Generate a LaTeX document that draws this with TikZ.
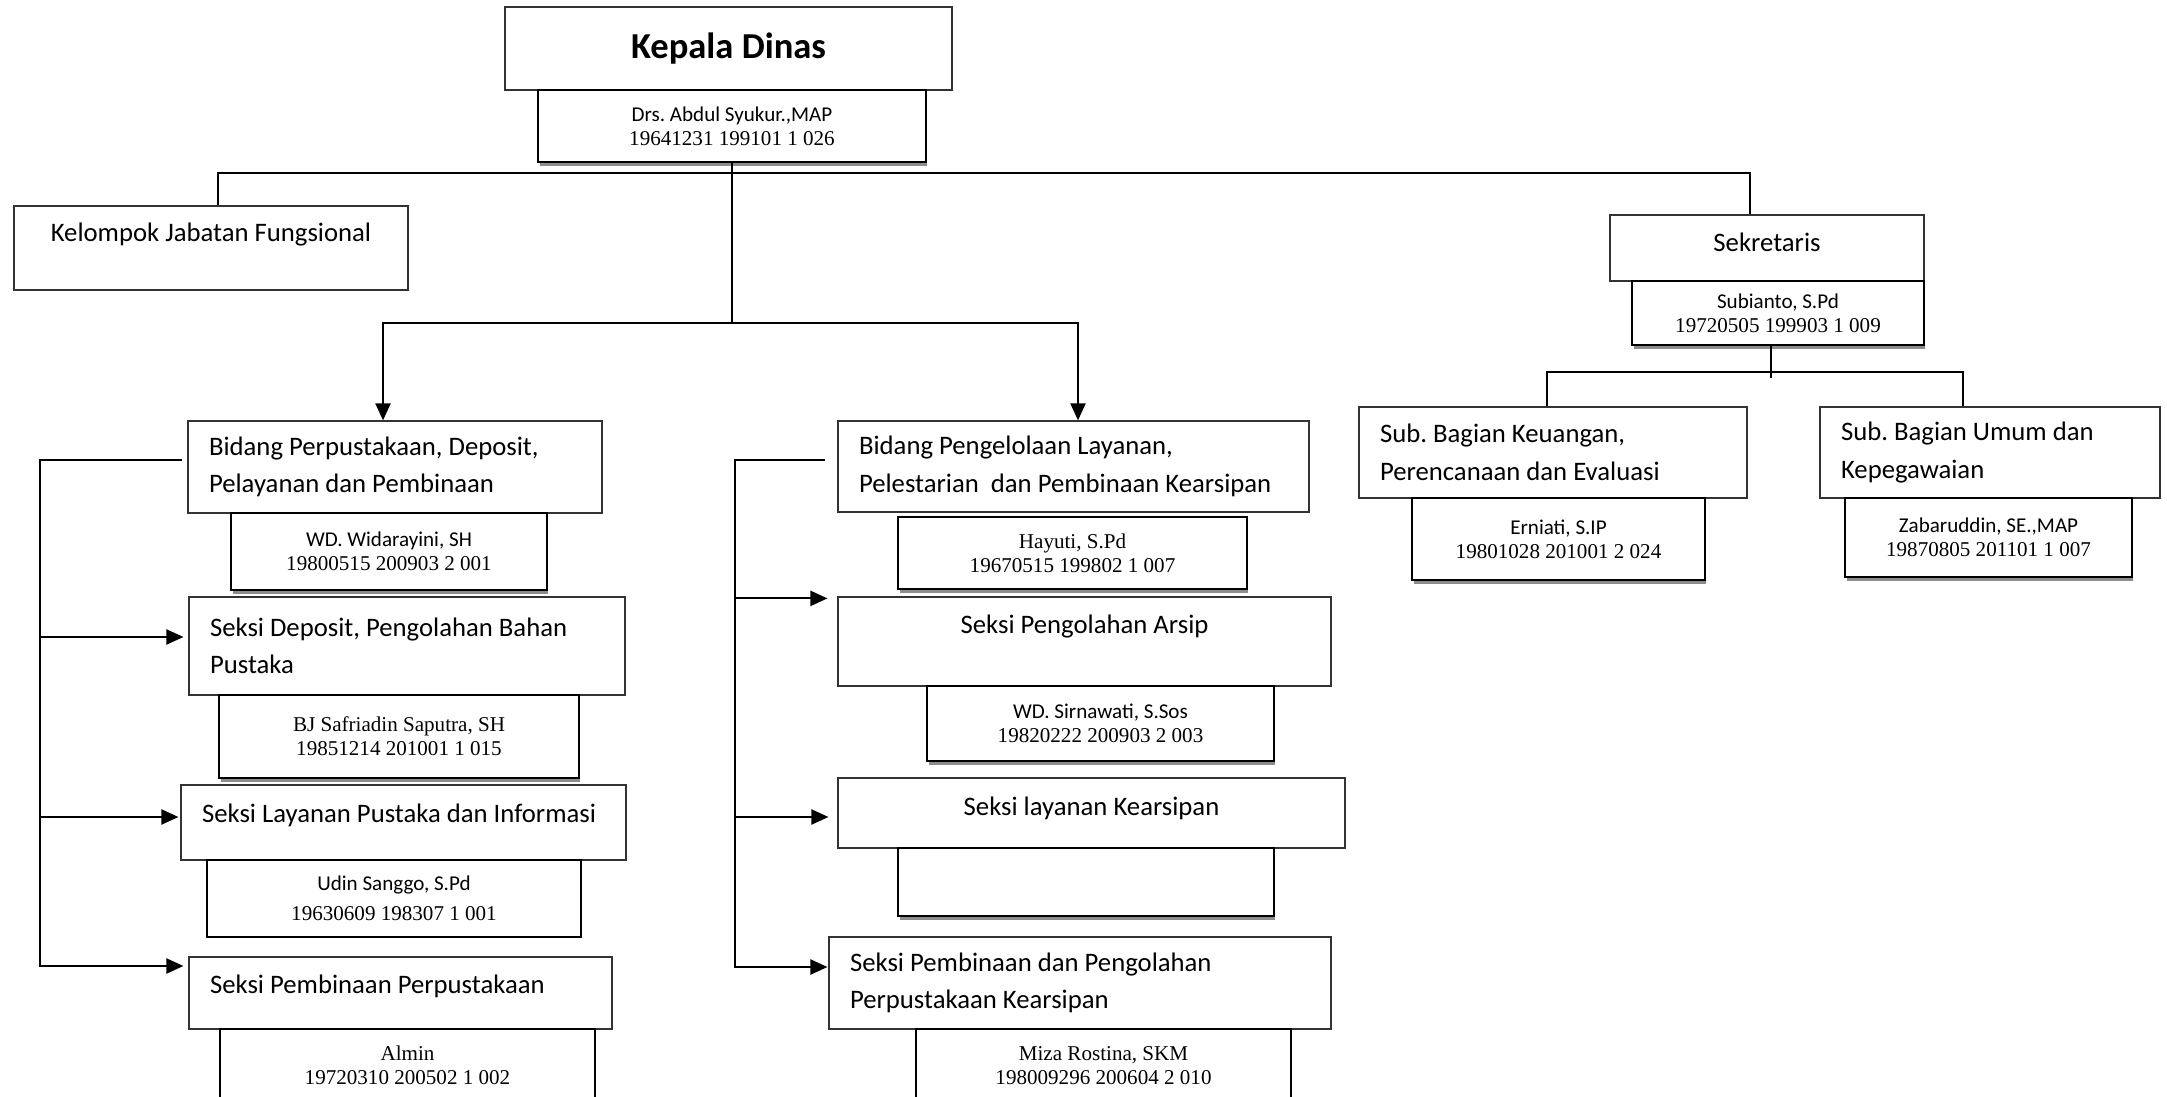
\documentclass[tikz,border=0pt]{standalone}
\usepackage{fontspec}
\setmainfont{Liberation Serif}
\setsansfont{Carlito}
\usetikzlibrary{arrows.meta,shadows}
\frenchspacing

\begin{document}
\begin{tikzpicture}[x=0.02cm, y=-0.02cm,
      orgbox/.style={draw=black!80, line width=0.7pt, fill=white,
        font=\sffamily\fontsize{15.2}{21.3}\selectfont},
      orgboxl/.style={orgbox, align=flush left, inner xsep=0.42cm, text width=#1},
      staffbox/.style={draw, line width=0.9pt, fill=white, align=center,
        font=\fontsize{12}{13.7}\selectfont},
      shadowed/.style={drop shadow={shadow xshift=0.03cm, shadow yshift=-0.08cm,
        fill=black!45, opacity=1}},
      conn/.style={line width=1.2pt},
      arrowto/.style={-{Triangle[length=0.34cm,width=0.3cm]}},
      arrowfrom/.style={{Triangle[length=0.34cm,width=0.3cm]}-}]
  \useasboundingbox (0,0) rectangle (2167,1097);
  \clip (0,0) rectangle (2167,1097);

  % kepala dinas
  \node[orgbox, minimum width=8.94cm, minimum height=1.66cm,
    font=\sffamily\bfseries\fontsize{20.8}{25}\selectfont] (kd) at (728.5,48.5) {Kepala Dinas};
  \node[staffbox, shadowed, minimum width=7.76cm, minimum height=1.44cm] (kdn) at (732,126)
    {{\sffamily Drs. Abdul Syukur.,MAP}\\19641231 199101 1 026};
  \node[orgbox, minimum width=7.88cm, minimum height=1.68cm, text depth=0.65cm] (kjf) at (211,248)
    {Kelompok Jabatan Fungsional};

  % sekretariat
  \node[orgbox, minimum width=6.28cm, minimum height=1.32cm, text depth=0.24cm] (sek) at (1767,248) {Sekretaris};
  \node[staffbox, shadowed, minimum width=5.84cm, minimum height=1.28cm] (sekn) at (1778,313)
    {{\sffamily Subianto, S.Pd}\\19720505 199903 1 009};
  \node[orgboxl=6.92cm, minimum height=1.82cm] (keu) at (1553,452.5)
    {Sub. Bagian Keuangan,\\Perencanaan dan Evaluasi};
  \node[staffbox, shadowed, minimum width=5.86cm, minimum height=1.64cm] (keun) at (1558.5,539)
    {{\sffamily Erniati, S.IP}\\19801028 201001 2 024};
  \node[orgboxl=5.96cm, minimum height=1.82cm] (umum) at (1990,452.5)
    {Sub. Bagian Umum dan\\Kepegawaian};
  \node[staffbox, shadowed, minimum width=5.74cm, minimum height=1.58cm] (umumn) at (1988.5,537.5)
    {{\sffamily Zabaruddin, SE.,MAP}\\19870805 201101 1 007};

  % bidang perpustakaan
  \node[orgboxl=7.44cm, minimum height=1.84cm] (bp) at (395,467)
    {Bidang Perpustakaan, Deposit,\\Pelayanan dan Pembinaan};
  \node[staffbox, shadowed, minimum width=6.32cm, minimum height=1.54cm] (bpn) at (389,551.5)
    {{\sffamily WD. Widarayini, SH}\\19800515 200903 2 001};
  \node[orgboxl=7.88cm, minimum height=1.96cm] (sdp) at (407,646)
    {Seksi Deposit, Pengolahan Bahan\\Pustaka};
  \node[staffbox, shadowed, minimum width=7.2cm, minimum height=1.66cm] (sdpn) at (399,736.5)
    {BJ Safriadin Saputra, SH\\19851214 201001 1 015};
  \node[orgboxl=8.06cm, minimum height=1.5cm, text depth=0.38cm] (slp) at (403.5,822.5)
    {Seksi Layanan Pustaka dan Informasi};
  \node[staffbox, minimum width=7.48cm, minimum height=1.54cm] (slpn) at (394,898.5)
    {{\sffamily Udin Sanggo, S.Pd}\\[0.12cm]19630609 198307 1 001};
  \node[orgboxl=7.62cm, minimum height=1.44cm, text depth=0.34cm] (spp) at (400.5,993)
    {Seksi Pembinaan Perpustakaan};
  \node[staffbox, minimum width=7.5cm, minimum height=1.46cm] (sppn) at (407.5,1065.5)
    {Almin\\19720310 200502 1 002};

  % bidang kearsipan
  \node[orgboxl=8.58cm, minimum height=1.82cm] (bk) at (1073.5,466.5)
    {Bidang Pengelolaan Layanan,\\Pelestarian\ \ dan Pembinaan Kearsipan};
  \node[staffbox, shadowed, minimum width=6.98cm, minimum height=1.44cm] (bkn) at (1072.5,553)
    {Hayuti, S.Pd\\19670515 199802 1 007};
  \node[orgbox, minimum width=9.86cm, minimum height=1.78cm, text depth=0.68cm] (spa) at (1084.5,641.5)
    {Seksi Pengolahan Arsip};
  \node[staffbox, shadowed, minimum width=6.94cm, minimum height=1.5cm] (span) at (1100.5,723.5)
    {{\sffamily WD. Sirnawati, S.Sos}\\19820222 200903 2 003};
  \node[orgbox, minimum width=10.14cm, minimum height=1.4cm, text depth=0.28cm] (slk) at (1091.5,813)
    {Seksi layanan Kearsipan};
  \node[staffbox, shadowed, minimum width=7.52cm, minimum height=1.36cm] (slkn) at (1086,882) {};
  \node[orgboxl=9.2cm, minimum height=1.84cm] (spk) at (1080,983)
    {Seksi Pembinaan dan Pengolahan\\Perpustakaan Kearsipan};
  \node[staffbox, minimum width=7.5cm, minimum height=1.46cm] (spkn) at (1103.5,1065.5)
    {Miza Rostina, SKM\\198009296 200604 2 010};

  % garis komando
  \coordinate (hub) at (732,173);
  \coordinate (split) at (732,323);
  \draw[conn] (kdn.south) -- (split);
  \draw[conn] ([xshift=0.14cm]kjf.north) |- (hub) -| ([xshift=-0.34cm]sek.north);
  \draw[conn,arrowto] (split) -| ([xshift=-0.24cm]bp.north);
  \draw[conn,arrowto] (split) -| ([xshift=0.09cm]bk.north);

  \coordinate (sekhub) at (1771,372);
  \draw[conn] ([xshift=-0.14cm]sekn.south) -- ++(0,32);
  \draw[conn] ([xshift=-0.12cm]keu.north) |- (sekhub) -| ([xshift=-0.54cm]umum.north);

  \coordinate (lbar) at (40,700);
  \draw[conn,arrowto] ([xshift=-0.1cm,yshift=0.14cm]bp.west) -| (lbar)
    |- ([xshift=-0.1cm,yshift=0.54cm]spp.west);
  \draw[conn,arrowfrom] ([xshift=-0.1cm,yshift=0.18cm]sdp.west) -| (lbar);
  \draw[conn,arrowfrom] ([xshift=-0.04cm,yshift=0.11cm]slp.west) -| (lbar);

  \coordinate (mbar) at (735,700);
  \draw[conn,arrowto] ([xshift=-0.24cm,yshift=0.13cm]bk.west) -| (mbar)
    |- ([xshift=-0.02cm,yshift=0.32cm]spk.west);
  \draw[conn,arrowfrom] ([xshift=-0.2cm,yshift=-0.04cm]spa.north west) -| (mbar);
  \draw[conn,arrowfrom] ([xshift=-0.18cm,yshift=-0.08cm]slk.west) -| (mbar);
\end{tikzpicture}
\end{document}
